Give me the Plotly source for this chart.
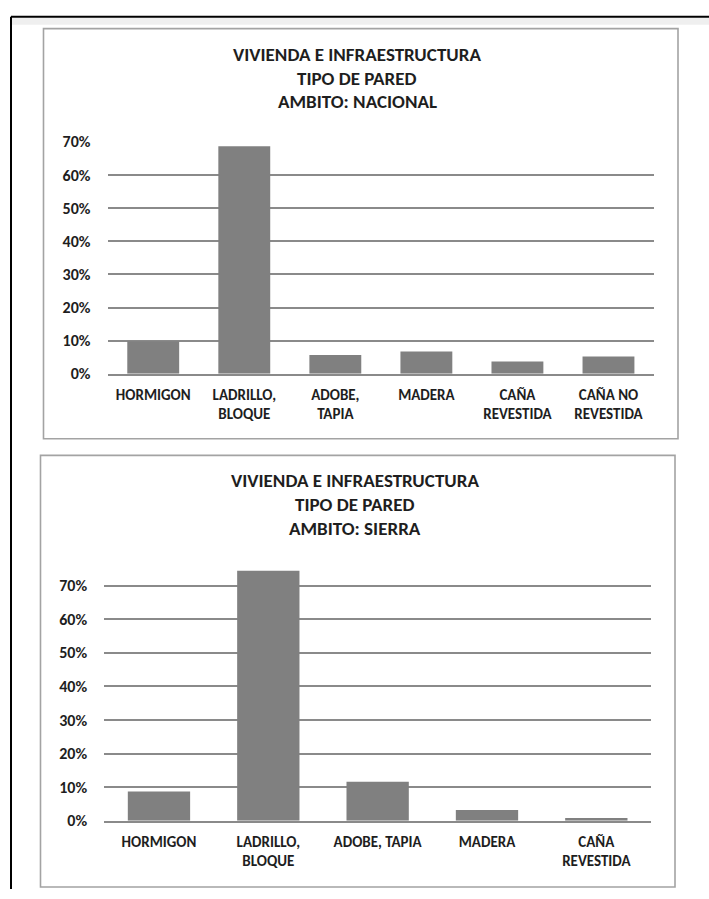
import plotly.graph_objects as go

# Wall type distribution (share of dwellings), national level
cats_nacional = ["HORMIGON", "LADRILLO,<br>BLOQUE", "ADOBE,<br>TAPIA", "MADERA",
                 "CAÑA<br>REVESTIDA", "CAÑA NO<br>REVESTIDA"]
vals_nacional = [0.098, 0.687, 0.057, 0.067, 0.037, 0.052]

# Wall type distribution, Sierra region
cats_sierra = ["HORMIGON", "LADRILLO,<br>BLOQUE", "ADOBE, TAPIA", "MADERA",
               "CAÑA<br>REVESTIDA"]
vals_sierra = [0.087, 0.744, 0.116, 0.032, 0.008]

y_ticks = [0, 0.1, 0.2, 0.3, 0.4, 0.5, 0.6, 0.7]

title_nacional = ["VIVIENDA E INFRAESTRUCTURA", "TIPO DE PARED", "AMBITO: NACIONAL"]
title_sierra = ["VIVIENDA E INFRAESTRUCTURA", "TIPO DE PARED", "AMBITO: SIERRA"]

W, H = 709, 899
FONT = "Carlito, Lato, sans-serif"
TEXT = "#1e1e1e"
GRID = "#8a8a8a"
BAR = "#808080"


def px(x):
    return x / W


def py(y):
    return 1 - y / H


fig = go.Figure()
fig.add_trace(go.Bar(x=cats_nacional, y=vals_nacional, marker_color=BAR,
                     marker_line_width=0, xaxis="x", yaxis="y", showlegend=False))
fig.add_trace(go.Bar(x=cats_sierra, y=vals_sierra, marker_color=BAR,
                     marker_line_width=0, xaxis="x2", yaxis="y2", showlegend=False))

xfont = dict(family=FONT, size=15, color=TEXT, weight="bold")
yfont = dict(family=FONT, size=16, color=TEXT, weight="bold")
xcommon = dict(showgrid=False, zeroline=False, showline=True, linecolor=GRID,
               linewidth=1.5, ticks="outside", ticklen=6, tickcolor="rgba(0,0,0,0)",
               tickfont=xfont, fixedrange=True)
ycommon = dict(tickvals=y_ticks, tickformat=".0%", showgrid=True, gridcolor=GRID,
               gridwidth=1.5, zeroline=False, showline=False, ticks="outside",
               ticklen=13, tickcolor="rgba(0,0,0,0)", tickfont=yfont,
               fixedrange=True)

fig.update_layout(
    width=W, height=H,
    margin=dict(l=0, r=0, t=0, b=0),
    paper_bgcolor="white", plot_bgcolor="white",
    bargap=0.43,
    xaxis=dict(domain=[px(107.7), px(654)], anchor="y", **xcommon),
    yaxis=dict(domain=[py(372.7), py(135.7)], range=[0, 0.7001], anchor="x", **ycommon),
    xaxis2=dict(domain=[px(104.3), px(651)], anchor="y2", **xcommon),
    yaxis2=dict(domain=[py(829.3), py(829.3 - 0.8 * 343.3)], range=[0, 0.8],
                anchor="x2", **ycommon),
)

shapes = []
# page frame: black rule on top and left, with a soft grey band under the top rule
shapes.append(dict(type="rect", xref="paper", yref="paper", x0=px(12), x1=1,
                   y0=py(16), y1=py(9), fillcolor="#efefef", line_width=0, layer="below"))
shapes.append(dict(type="line", xref="paper", yref="paper", x0=px(11), x1=1,
                   y0=py(8), y1=py(8), line=dict(color="black", width=2)))
shapes.append(dict(type="line", xref="paper", yref="paper", x0=px(11), x1=px(11),
                   y0=py(8), y1=0, line=dict(color="black", width=2)))
# chart borders
for (x0, y0, x1, y1) in [(43.5, 20, 678, 439), (40.5, 456, 675, 897)]:
    shapes.append(dict(type="rect", xref="paper", yref="paper",
                       x0=px(x0), x1=px(x1), y0=py(y1), y1=py(y0),
                       line=dict(color="#a3a3a3", width=1.6), layer="below"))
fig.update_layout(shapes=shapes)

annotations = []
for lines, cx, ys in [(title_nacional, 357, [46, 70.5, 95]),
                      (title_sierra, 355, [482, 506.5, 531])]:
    for text, yy in zip(lines, ys):
        annotations.append(dict(text=f"<b>{text}</b>", xref="paper", yref="paper",
                                x=px(cx), y=py(yy), xanchor="center", yanchor="middle",
                                showarrow=False,
                                font=dict(family=FONT, size=19, color=TEXT)))
fig.update_layout(annotations=annotations)

fig.write_html("out.html")
